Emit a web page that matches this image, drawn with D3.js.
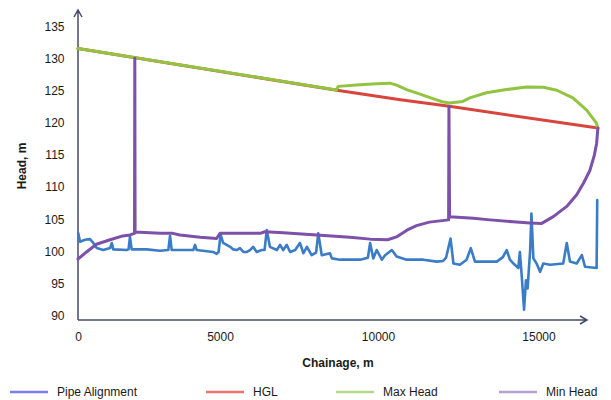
<!DOCTYPE html>
<html>
<head>
<meta charset="utf-8">
<script src="https://cdn.jsdelivr.net/npm/d3@7"></script>
<style>
  body { margin: 0; background: #fff; }
  svg text { font-family: "Liberation Sans", Arial, sans-serif; fill: #1a1a1a; }
</style>
</head>
<body>
<div id="chart"></div>
<script>
// Head profile along the pipeline

var chainageTicks = [0, 5000, 10000, 15000];
var headTicks = [90, 95, 100, 105, 110, 115, 120, 125, 130, 135];

var seriesNames = ["Pipe Alignment", "HGL", "Max Head", "Min Head"];
var lineColors = ["#3b7cc6", "#d8453d", "#92c341", "#7d50a9"];
var legendColors = ["#7d7df2", "#f27272", "#b9d58e", "#b3a1d0"];

// [chainage m, head m]
var pipeAlignment = [
    [10,102.8],[70,101.5],[250,101.8],[420,101.9],[540,101.3],[660,100.5],[890,100.2],[1130,100.5],
    [1190,101.3],[1240,100.3],[1720,100.2],[1780,100.3],[1830,102.3],[1890,100.3],[2420,100.3],
    [2890,100.1],[3180,100.2],[3240,102.4],[3300,100.2],[4060,100.2],[4120,101.0],[4180,100.2],
    [4760,99.9],[4880,99.6],[4950,99.9],[5020,102.6],[5100,101.3],[5210,101.0],[5320,100.7],
    [5420,100.3],[5530,100.2],[5630,100.5],[5740,99.9],[5850,99.9],[5950,100.2],[6050,100.7],
    [6160,99.9],[6320,100.2],[6410,100.2],[6480,103.3],[6580,100.7],[6800,100.2],[6900,101.0],
    [7000,100.2],[7110,101.0],[7220,99.9],[7380,100.2],[7530,101.3],[7640,99.7],[7750,100.7],
    [7900,99.4],[8040,99.8],[8110,102.8],[8220,99.4],[8480,99.7],[8540,98.9],[8800,98.7],
    [9430,98.7],[9680,99.0],[9750,101.3],[9850,98.9],[9960,100.2],[10120,98.7],[10220,99.4],
    [10430,100.2],[10580,99.2],[10890,98.7],[11410,98.7],[11830,98.4],[12030,98.5],[12120,99.0],
    [12260,102.0],[12350,98.1],[12550,97.9],[12760,98.7],[12890,100.5],[13020,98.4],[13180,98.4],
    [13700,98.4],[13890,99.1],[14010,100.2],[14110,98.7],[14220,98.1],[14370,97.4],[14420,99.9],
    [14480,96.0],[14550,90.9],[14610,95.5],[14660,94.2],[14740,100.2],[14780,105.9],[14840,98.9],
    [14940,98.1],[15050,96.8],[15150,98.1],[15360,97.9],[15770,98.1],[15880,101.3],[15980,98.4],
    [16190,98.1],[16350,99.4],[16450,97.6],[16810,97.4],[16830,108.0]
];

var hgl = [[0,131.6],[8700,125.1],[10700,123.6],[12220,122.6],[16850,119.2]];

var maxHead = [
    [0,131.6],[8690,125.15],[8740,125.7],[9430,125.95],[9960,126.1],[10370,126.2],[10580,125.9],
    [10890,125.2],[11310,124.5],[11710,123.8],[12000,123.3],[12220,123.1],[12640,123.35],
    [12860,123.9],[13380,124.7],[14000,125.2],[14630,125.6],[15150,125.55],[15570,125.1],
    [16070,123.9],[16500,122.0],[16800,120.0],[16850,119.2]
];

var minHead = [
    [0,98.8],[300,99.9],[650,101.1],[1130,101.8],[1580,102.4],[1830,102.55],[1990,102.8],
    [2000,130.1],[2010,103.0],[2890,102.8],[3340,102.8],[3590,102.55],[4300,102.2],[4880,102.0],
    [5000,102.8],[6270,102.8],[6420,103.05],[7000,102.9],[8060,102.55],[9110,102.2],[9750,101.9],
    [10300,101.8],[10600,102.3],[10900,103.3],[11200,104.0],[11600,104.55],[12200,104.9],[12210,122.6],
    [12230,105.4],[12970,105.15],[13490,104.9],[14210,104.6],[14730,104.4],[15100,104.35],
    [15460,105.4],[15880,107.0],[16190,108.8],[16400,110.6],[16600,112.6],[16740,115.0],
    [16810,116.8],[16850,119.2]
];

var width = 611, height = 400;
var axisColor = "#474b6a";
var legendX = [10, 206, 336, 499];

var svg = d3.select("#chart").append("svg")
    .attr("width", width)
    .attr("height", height);

var x = d3.scaleLinear()
    .domain(chainageTicks)
    .range([78, 220, 378, 538.5]);

var y = d3.scaleLinear()
    .domain([89.3, 137.6])
    .range([320, 10]);

// axes
svg.append("g")
    .attr("transform", "translate(0,320)")
    .call(d3.axisBottom(x).tickValues(chainageTicks).tickSize(0).tickPadding(12.5).tickFormat(d3.format("d")))
    .call(function(g) { g.select(".domain").remove(); })
    .selectAll("text")
    .style("font-size", "12px");

svg.append("g")
    .attr("transform", "translate(78,0)")
    .call(d3.axisLeft(y).tickValues(headTicks).tickSize(0).tickPadding(13.5))
    .call(function(g) { g.select(".domain").remove(); })
    .selectAll("text")
    .style("font-size", "12px");

svg.append("path")
    .attr("d", "M78,320H587M580,316L587,320L580,324")
    .attr("fill", "none")
    .attr("stroke", axisColor)
    .attr("stroke-width", 1.5);

svg.append("path")
    .attr("d", "M78,320V10M74,17L78,10L82,17")
    .attr("fill", "none")
    .attr("stroke", axisColor)
    .attr("stroke-width", 1.5);

svg.append("text")
    .attr("x", 338)
    .attr("y", 367)
    .attr("text-anchor", "middle")
    .style("font-size", "12px")
    .style("font-weight", "bold")
    .text("Chainage, m");

svg.append("text")
    .attr("transform", "translate(26,166) rotate(-90)")
    .attr("text-anchor", "middle")
    .style("font-size", "12px")
    .style("font-weight", "bold")
    .text("Head, m");

// lines
var line = d3.line()
    .x(function(d) { return x(d[0]); })
    .y(function(d) { return y(d[1]); });

var allSeries = [pipeAlignment, hgl, maxHead, minHead];

svg.selectAll("path.series")
    .data(allSeries)
    .enter().append("path")
    .attr("class", "series")
    .attr("d", line)
    .attr("fill", "none")
    .attr("stroke", function(d, i) { return lineColors[i]; })
    .attr("stroke-width", function(d, i) { return i == 0 ? 2.6 : 3; })
    .attr("stroke-linejoin", "round")
    .attr("stroke-linecap", "round");

// legend
var legend = svg.selectAll("g.legend")
    .data(seriesNames)
    .enter().append("g")
    .attr("class", "legend")
    .attr("transform", function(d, i) { return "translate(" + legendX[i] + ",392)"; });

legend.append("line")
    .attr("x1", 0)
    .attr("x2", 38)
    .attr("y1", 0)
    .attr("y2", 0)
    .attr("stroke", function(d, i) { return legendColors[i]; })
    .attr("stroke-width", 2.5);

legend.append("text")
    .attr("x", 47)
    .attr("dy", "0.35em")
    .style("font-size", "12px")
    .text(function(d) { return d; });
</script>
</body>
</html>
